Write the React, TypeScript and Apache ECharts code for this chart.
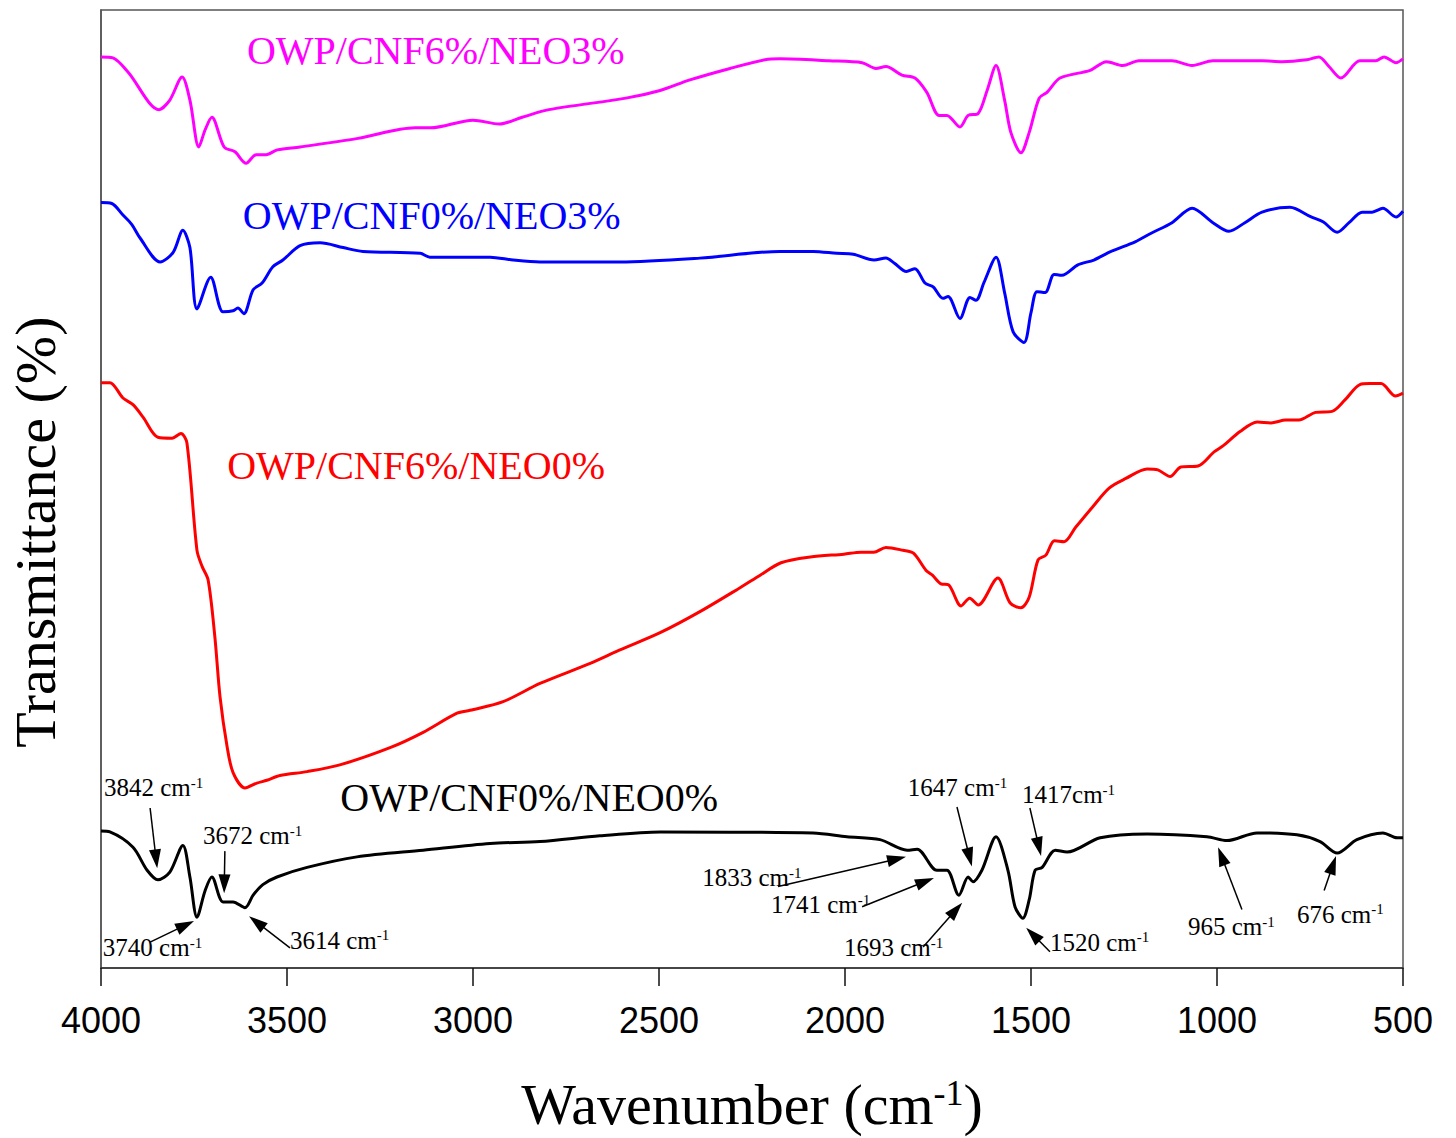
import React, { useEffect, useRef } from "react";
import * as echarts from "echarts";

// ---- Data: [wavenumber (cm-1), transmittance (a.u., 0-100)] ----
const CNF6_NEO3: [number, number][] = [
  [4000, 95.1], [3968, 95.0], [3927, 93.5], [3844, 89.6], [3815, 90.6], [3782, 93.0], [3761, 90.6],
  [3737, 85.7], [3720, 87.5], [3702, 88.8], [3669, 85.7], [3640, 85.2], [3610, 84.0], [3583, 84.9],
  [3556, 84.9], [3526, 85.4], [3465, 85.7], [3309, 86.6], [3156, 87.7], [3114, 87.7], [3000, 88.5],
  [2929, 88.1], [2868, 88.8], [2796, 89.6], [2589, 90.8], [2497, 91.6], [2417, 92.7], [2309, 93.9],
  [2215, 94.8], [2175, 94.9], [2043, 94.7], [1954, 94.5], [1917, 93.9], [1890, 94.1], [1847, 93.2],
  [1812, 92.9], [1780, 91.4], [1747, 89.0], [1726, 89.0], [1691, 87.8], [1669, 89.0], [1642, 89.2],
  [1618, 91.6], [1594, 94.2], [1571, 90.6], [1554, 87.2], [1527, 85.1], [1505, 87.2], [1478, 90.8],
  [1457, 91.4], [1422, 92.9], [1341, 93.7], [1297, 94.6], [1253, 94.2], [1210, 94.7], [1121, 94.7],
  [1067, 94.2], [1011, 94.7], [879, 94.7], [825, 94.6], [759, 94.8], [726, 95.1], [699, 94.1],
  [667, 92.9], [616, 94.7], [573, 94.7], [551, 95.1], [519, 94.5], [500, 94.9],
];

const CNF0_NEO3: [number, number][] = [
  [4000, 79.9], [3971, 79.8], [3941, 78.6], [3917, 77.6], [3895, 76.2], [3841, 73.7], [3806, 74.7],
  [3780, 77.0], [3761, 75.2], [3742, 68.8], [3705, 72.1], [3672, 68.5], [3645, 68.6], [3632, 68.9],
  [3616, 68.3], [3591, 70.8], [3567, 71.5], [3538, 73.2], [3511, 73.9], [3465, 75.4], [3411, 75.7],
  [3349, 75.2], [3296, 74.8], [3142, 74.6], [3116, 74.2], [2954, 74.2], [2892, 73.9], [2820, 73.7],
  [2605, 73.7], [2390, 74.1], [2175, 74.8], [2086, 74.8], [2022, 74.6], [1978, 74.5], [1922, 73.9],
  [1890, 74.1], [1868, 73.6], [1835, 72.7], [1812, 73.0], [1785, 71.5], [1763, 71.1], [1737, 69.9],
  [1723, 70.1], [1691, 67.8], [1664, 70.0], [1648, 69.7], [1626, 71.6], [1594, 74.2], [1571, 70.5],
  [1548, 66.4], [1519, 65.3], [1500, 68.4], [1484, 70.6], [1462, 70.5], [1438, 72.4], [1417, 72.3],
  [1374, 73.4], [1331, 73.9], [1285, 74.8], [1220, 75.8], [1177, 76.7], [1121, 77.8], [1067, 79.3],
  [1011, 77.8], [968, 76.9], [925, 77.8], [879, 78.9], [804, 79.4], [747, 78.4], [715, 77.9],
  [677, 76.8], [645, 77.8], [610, 78.9], [583, 78.9], [554, 79.3], [519, 78.4], [500, 79.0],
];

const CNF6_NEO0: [number, number][] = [
  [4000, 61.1], [3976, 61.1], [3941, 59.5], [3914, 58.8], [3887, 57.5], [3847, 55.4], [3809, 55.3],
  [3785, 55.8], [3769, 54.8], [3742, 43.6], [3728, 41.9], [3712, 40.5], [3694, 34.6], [3680, 28.3],
  [3661, 23.1], [3645, 20.4], [3613, 18.8], [3581, 19.3], [3554, 19.6], [3519, 20.1], [3446, 20.5],
  [3358, 21.2], [3223, 23.0], [3134, 24.6], [3043, 26.6], [3008, 26.9], [2919, 27.8], [2820, 29.7],
  [2685, 31.8], [2605, 33.2], [2497, 35.0], [2390, 37.2], [2282, 39.7], [2228, 41.0], [2172, 42.3],
  [2093, 42.9], [2003, 43.2], [1957, 43.4], [1923, 43.4], [1890, 43.9], [1844, 43.6], [1816, 43.3],
  [1782, 41.5], [1765, 41.0], [1742, 40.1], [1722, 40.0], [1688, 37.8], [1665, 38.6], [1642, 37.9],
  [1589, 40.7], [1556, 38.1], [1527, 37.6], [1505, 38.7], [1481, 42.6], [1460, 43.1], [1437, 44.6],
  [1411, 44.5], [1380, 46.0], [1335, 48.1], [1290, 50.1], [1245, 51.1], [1188, 52.1], [1159, 52.0],
  [1126, 51.3], [1097, 52.3], [1051, 52.4], [1007, 53.9], [984, 54.5], [938, 56.0], [892, 57.0],
  [855, 56.9], [815, 57.2], [780, 57.2], [735, 58.0], [691, 58.1], [656, 59.3], [616, 60.9],
  [589, 61.0], [559, 61.0], [520, 59.7], [500, 60.0],
];

const CNF0_NEO0: [number, number][] = [
  [4000, 14.3], [3976, 14.2], [3914, 12.6], [3876, 10.2], [3847, 9.2], [3815, 10.0], [3780, 12.8],
  [3761, 9.5], [3742, 5.3], [3720, 8.1], [3702, 9.5], [3672, 6.9], [3645, 6.9], [3613, 6.3],
  [3591, 7.6], [3565, 8.7], [3527, 9.5], [3446, 10.5], [3312, 11.6], [3134, 12.3], [2954, 13.0],
  [2820, 13.2], [2659, 13.8], [2497, 14.2], [2086, 14.1], [1995, 13.7], [1906, 13.4], [1833, 12.3],
  [1806, 12.4], [1753, 10.2], [1726, 10.2], [1694, 7.6], [1669, 9.5], [1656, 9.0], [1632, 10.2],
  [1594, 13.7], [1562, 10.2], [1543, 6.4], [1522, 5.2], [1505, 7.1], [1489, 10.2], [1470, 10.5],
  [1435, 12.3], [1403, 12.1], [1314, 13.6], [1188, 14.0], [1027, 13.7], [973, 13.3], [892, 14.1],
  [785, 13.9], [723, 13.2], [677, 12.0], [624, 13.4], [554, 14.1], [516, 13.6], [500, 13.6],
];

const SERIES_NAMES = ["OWP/CNF6%/NEO3%", "OWP/CNF0%/NEO3%", "OWP/CNF6%/NEO0%", "OWP/CNF0%/NEO0%"];
const SERIES_DATA = [CNF6_NEO3, CNF0_NEO3, CNF6_NEO0, CNF0_NEO0];
const SERIES_COLORS = ["#ff00ff", "#0000ff", "#ff0000", "#000000"];
// label centre of each series name, in data coordinates
const SERIES_LABEL_AT: [number, number][] = [[3100, 95.8], [3111, 78.5], [3153, 52.5], [2849, 17.8]];

// peak annotations: number, separator, text left/centre, arrow tail, arrow head (data coords)
const PEAK_LABELS = ["3842", "3672", "3740", "3614", "1833", "1741", "1693", "1647", "1417", "1520", "965", "676"];
const PEAK_SEP = [" ", " ", " ", " ", " ", " ", " ", " ", "", " ", " ", " "];
const PEAK_TEXT_AT: [number, number][] = [
  [3992, 18.8], [3726, 13.8], [3995, 2.1], [3492, 2.9], [2384, 9.4], [2199, 6.6],
  [2003, 2.1], [1831, 18.8], [1524, 18.1], [1449, 2.7], [1078, 4.3], [785, 5.6],
];
const ARROW_FROM: [number, number][] = [
  [3868, 16.7], [3667, 12.2], [3868, 2.7], [3492, 2.1], [2180, 8.5], [1954, 6.4],
  [1790, 2.2], [1699, 16.8], [1503, 16.7], [1449, 1.7], [933, 6.1], [712, 8.1],
];
const ARROW_TO: [number, number][] = [
  [3849, 10.4], [3669, 7.8], [3750, 4.9], [3602, 5.4], [1836, 11.6], [1761, 9.4],
  [1685, 6.8], [1659, 10.6], [1473, 11.7], [1513, 4.2], [997, 12.6], [680, 11.7],
];
// y-axis title centre (data coords, outside the plot)
const Y_TITLE_AT: [number, number] = [4177, 45.5];

const SERIF = '"Liberation Serif", "Times New Roman", serif';
const SANS = '"Liberation Sans", Arial, sans-serif';

export default function App() {
  const ref = useRef<HTMLDivElement>(null);

  useEffect(() => {
    const chart = echarts.init(ref.current!, null, { renderer: "svg" });
    const option: any = {
      animation: false,
      backgroundColor: "#ffffff",
      grid: {
        left: 101, right: 53, top: 10, bottom: 170,
        show: true, borderColor: "#555", borderWidth: 1.5, backgroundColor: "transparent",
      },
      xAxis: {
        type: "value", inverse: true, min: 500, max: 4000, interval: 500,
        axisLine: { show: true, onZero: false, lineStyle: { color: "#333", width: 1.5 } },
        axisTick: { show: true, length: 18, lineStyle: { color: "#111", width: 1.5 } },
        axisLabel: {
          fontFamily: SANS, fontSize: 36, color: "#000", margin: 34, showMinLabel: true, showMaxLabel: true,
          formatter: (v: number) => String(v),
        },
        splitLine: { show: false },
        name: "{a|Wavenumber (cm}{s|-1}{a|)}",
        nameLocation: "middle",
        nameGap: 107,
        nameTextStyle: {
          fontFamily: SERIF, fontSize: 58, color: "#000",
          rich: {
            a: { fontFamily: SERIF, fontSize: 58, color: "#000" },
            s: { fontFamily: SERIF, fontSize: 36, color: "#000", verticalAlign: "top" },
          },
        },
      },
      yAxis: {
        type: "value", min: 0, max: 100,
        axisLine: { show: true, lineStyle: { color: "#555", width: 1.5 } },
        axisTick: { show: false }, axisLabel: { show: false }, splitLine: { show: false },
      },
      series: SERIES_DATA.map((d, i) => ({
        name: SERIES_NAMES[i], type: "line", data: d, symbol: "none", showSymbol: false,
        smooth: 0.3, lineStyle: { color: SERIES_COLORS[i], width: 3 }, z: 2,
      })),
    };
    chart.setOption(option);

    const px = (p: [number, number]) => chart.convertToPixel({ gridIndex: 0 }, p) as number[];
    const elements: any[] = [];

    const [yx, yy] = px(Y_TITLE_AT);
    elements.push({
      type: "text", x: yx, y: yy, rotation: Math.PI / 2, z: 10,
      style: { text: "Transmittance (%)", fill: "#000", fontFamily: SERIF, fontSize: 58, align: "center", verticalAlign: "middle" },
    });

    SERIES_NAMES.forEach((name, i) => {
      const [x, y] = px(SERIES_LABEL_AT[i]);
      elements.push({
        type: "text", x, y, z: 10,
        style: { text: name, fill: SERIES_COLORS[i], fontFamily: SERIF, fontSize: 40, align: "center", verticalAlign: "middle" },
      });
    });

    PEAK_LABELS.forEach((lab, i) => {
      const [tx, ty] = px(PEAK_TEXT_AT[i]);
      elements.push({
        type: "text", x: tx, y: ty, z: 10,
        style: {
          text: `{a|${lab}${PEAK_SEP[i]}cm}{s|-1}`,
          fill: "#000", fontFamily: SERIF, fontSize: 25, align: "left", verticalAlign: "middle",
          rich: {
            a: { fontFamily: SERIF, fontSize: 25, fill: "#000", color: "#000" },
            s: { fontFamily: SERIF, fontSize: 15, fill: "#000", color: "#000", verticalAlign: "top" },
          },
        },
      });
      const [x1, y1] = px(ARROW_FROM[i]);
      const [x2, y2] = px(ARROW_TO[i]);
      const dx = x2 - x1, dy = y2 - y1;
      const len = Math.sqrt(dx * dx + dy * dy) || 1;
      const ux = dx / len, uy = dy / len;
      const L = 19, W = 6;
      const bx = x2 - ux * L, by = y2 - uy * L;
      elements.push({
        type: "line", z: 10,
        shape: { x1, y1, x2: bx + ux * 2, y2: by + uy * 2 },
        style: { stroke: "#000", lineWidth: 1.5 },
      });
      elements.push({
        type: "polygon", z: 10,
        shape: { points: [[x2, y2], [bx - uy * W, by + ux * W], [bx + uy * W, by - ux * W]] },
        style: { fill: "#000" },
      });
    });

    chart.setOption({ graphic: elements });
    return () => chart.dispose();
  }, []);

  return <div ref={ref} style={{ position: "absolute", left: 0, top: 0, width: 1456, height: 1138 }} />;
}
